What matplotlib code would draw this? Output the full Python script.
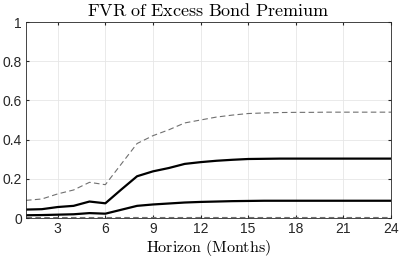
import numpy as np
import matplotlib
matplotlib.use('Agg')
import matplotlib.pyplot as plt

plt.rcParams['font.family'] = ['Liberation Sans', 'DejaVu Sans']
plt.rcParams['mathtext.fontset'] = 'cm'

horizon = np.arange(1, 25)
upper_band = [0.09, 0.097, 0.123, 0.143, 0.182, 0.17, 0.275, 0.38, 0.42, 0.45, 0.485, 0.50,
              0.515, 0.525, 0.533, 0.536, 0.538, 0.539, 0.539, 0.54, 0.54, 0.54, 0.54, 0.54]
upper_solid = [0.043, 0.045, 0.056, 0.062, 0.084, 0.075, 0.145, 0.213, 0.238, 0.255, 0.276, 0.285,
               0.292, 0.297, 0.301, 0.302, 0.303, 0.303, 0.303, 0.303, 0.303, 0.303, 0.303, 0.303]
lower_solid = [0.014, 0.015, 0.017, 0.019, 0.025, 0.022, 0.042, 0.062, 0.069, 0.074, 0.079, 0.082,
               0.084, 0.086, 0.087, 0.088, 0.088, 0.088, 0.088, 0.088, 0.088, 0.088, 0.088, 0.088]
lower_band = [0.003] * 24

fig = plt.figure(figsize=(3.99, 2.6), dpi=100)
ax = fig.add_axes([26/399, 1 - 218/260, 365/399, 196/260])

ax.plot(horizon, upper_band, '--', color='#707070', lw=0.8, dashes=(5, 3))
ax.plot(horizon, lower_band, '--', color='#707070', lw=0.8, dashes=(5, 3))
ax.plot(horizon, upper_solid, '-', color='black', lw=1.6)
ax.plot(horizon, lower_solid, '-', color='black', lw=1.6)

ax.set_xlim(1, 24)
ax.set_ylim(0, 1)
ax.set_xticks(np.arange(3, 25, 3))
ax.set_yticks([0, 0.2, 0.4, 0.6, 0.8, 1])
ax.set_yticklabels(['0', '0.2', '0.4', '0.6', '0.8', '1'])
ax.grid(True, color='#e6e6e6', lw=0.6)
ax.set_axisbelow(True)
ax.tick_params(direction='in', length=2.5, labelsize=10, color='#262626',
               labelcolor='#262626', top=True, right=True, pad=3)
for s in ax.spines.values():
    s.set_color('#262626')
    s.set_linewidth(0.6)

ax.set_title(r'$\mathrm{FVR\ of\ Excess\ Bond\ Premium}$', fontsize=13, pad=4)
ax.set_xlabel(r'$\mathrm{Horizon\ (Months)}$', fontsize=11.5, labelpad=1)

fig.savefig('out.png', dpi=100)
